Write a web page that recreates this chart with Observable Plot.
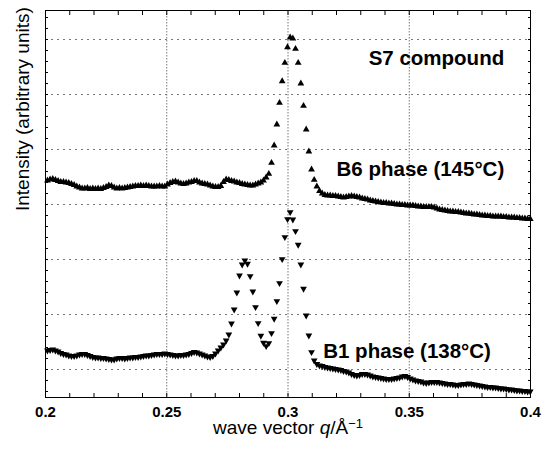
<!DOCTYPE html>
<html><head><meta charset="utf-8">
<script src="https://cdn.jsdelivr.net/npm/d3@7"></script>
<script src="https://cdn.jsdelivr.net/npm/@observablehq/plot@0.6"></script>
<style>body{margin:0;background:#fff}</style>
</head><body><div id="chart"></div>
<script>
// measurement grid in q (Å^-1)
const qStart = 0.2008, qStep = 0.0011;
// intensity, arbitrary units (B6 phase, 145°C, upward triangles)
const b6 = [189,190,190.5,189.5,188.5,187.5,187.5,187,186.5,185.5,184.5,183,182,181,181,181.5,180.5,181,180.5,181,
180.5,181.5,182.5,184,183.5,182,181,181.5,181,181.5,182,182.5,183,183.5,183.5,184,183.5,184,183.5,183,
183,183,183.5,183,183,185,186.5,187.5,188,187,186,185.5,186,187,187.5,188.5,188.5,187,186,185.5,
185,184,183,182.5,182.5,183.5,187.5,190,189.5,188.5,188,187,186.5,185.5,185,184.5,184,184,185,186,
187,189,192,195.7,206.7,224,245,266.7,288.3,306.7,322.3,332,331,320.7,306.7,286,263.7,240,218,200,
189.7,183,178.5,176,174.5,174,174,173.5,173.5,173,172.5,172,172.5,173,173.5,173,172.5,172,171,170.5,
170,169,168.5,168,167.5,167,166.5,166.5,166,166,165.5,165,165,164.5,164.5,164,164,164,163.5,163,
163,162.5,162.5,162.5,162.5,162,161,160,159.5,159,158.5,158,158,157.5,157.5,157,156.5,156,156,155.5,
155,155,154.5,154,154,153.5,153.5,153,153,153,153,152.5,152.5,152,152,152,151.5,151.5,151,151,
150.5,150.5];
// intensity, arbitrary units (B1 phase, 138°C, downward triangles)
const b1 = [19,19.5,20,19,18,16.5,15.5,15,14,13.5,13.5,14,15,15.5,15.5,14.5,13.5,12.5,12,12,
11.5,11.5,11,10.5,10,10,11,11.5,11.5,11,11.5,12,12,12.5,12.5,13,13.5,14,14,14.5,
15,15.5,15.5,15.5,16,15.5,15,14.5,14,14,14.5,14.5,15,15.5,16.5,17.5,17,16,15,14,
13,12.5,13.5,16,19,22,25,29,35,46,60,77,94,105,109,105.7,93.3,78,62.3,46.3,
33.7,26.7,23.3,26.3,36.3,50.7,68.3,86.3,110.3,132.3,150.3,157.3,150,138.3,124.7,105,80.7,54,34,17.3,
9,5.5,4,3.5,2.5,2,1.5,1,0.5,0,-0.5,-1.5,-2,-3,-4.5,-5.5,-6,-5.5,-4.5,-4.5,
-5,-6,-7,-7.5,-8,-8.5,-9,-9.5,-9.5,-9.5,-9,-8.5,-8,-7,-6.5,-7.5,-9,-10,-11,-11.5,
-12,-13,-13.5,-13,-12.5,-12.5,-12.5,-13,-13.5,-14,-14.5,-14.5,-15,-15.5,-15.5,-15,-14.5,-14.5,-14,-14.5,
-15,-15.5,-16,-16.5,-17,-17.5,-17.5,-18,-18,-18.5,-19,-19,-19.5,-20,-20,-20.5,-21,-21,-21.5,-21.5,
-22,-22];
const xTickLabels = [0.2, 0.25, 0.3, 0.35, 0.4];
const xGrid = [0.25, 0.3, 0.35];
const xMinor = [0.2,0.21,0.22,0.23,0.24,0.25,0.26,0.27,0.28,0.29,0.3,0.31,0.32,0.33,0.34,0.35,0.36,0.37,0.38,0.39,0.4];
const yGrid = [0, 55, 110, 165, 220, 275, 330];
const yMinor = [-22,-11,0,11,22,33,44,55,66,77,88,99,110,121,132,143,154,165,176,187,198,209,220,231,242,253,264,275,286,297,308,319,330,341,352];

const upper = b6.map((v, i) => ({q: qStart + i * qStep, I: v}));
const lower = b1.map((v, i) => ({q: qStart + i * qStep, I: v}));

const font = "'Liberation Sans', Arial, Helvetica, sans-serif";
const tickOnly = {tickFormat: null, fill: "none", label: null, stroke: "black"};
const chart = Plot.plot({
  width: 544, height: 450,
  marginLeft: 45, marginRight: 14, marginTop: 10, marginBottom: 53,
  x: {domain: [0.2, 0.4]},
  y: {domain: [-28, 359]},
  style: {fontFamily: font, background: "white", color: "black"},
  marks: [
    Plot.gridX(xGrid, {stroke: "#777", strokeOpacity: 1, strokeDasharray: "1.5,1.5"}),
    Plot.gridY(yGrid, {stroke: "#777", strokeOpacity: 1, strokeDasharray: "2,4"}),
    Plot.dot(upper, {x: "q", y: "I", symbol: "triangle", r: 2.5, fill: "black", stroke: "none"}),
    Plot.dot(lower, {x: "q", y: "I", symbol: "triangle", rotate: 180, r: 2.5, fill: "black", stroke: "none"}),
    Plot.frame({stroke: "black"}),
    Plot.axisX(xMinor, {anchor: "bottom", tickSize: -4, ...tickOnly}),
    Plot.axisX(xMinor, {anchor: "top", tickSize: -4, ...tickOnly}),
    Plot.axisY(yMinor, {anchor: "left", tickSize: -3, ...tickOnly}),
    Plot.axisY(yMinor, {anchor: "right", tickSize: -3, ...tickOnly}),
    Plot.axisX(xTickLabels, {anchor: "bottom", tickSize: 0, tickPadding: 9, tickFormat: d => String(d), fontWeight: "bold", fontSize: 15, label: null}),
    Plot.text(["wave vector q/Å−1"], {text: d => d, frameAnchor: "bottom", dy: 36, lineAnchor: "bottom", fontSize: 19}),
    Plot.text(["Intensity (arbitrary units)"], {text: d => d, frameAnchor: "left", rotate: -90, dx: -23, dy: 7, fontSize: 19}),
    Plot.text(["S7 compound"], {text: d => d, x: 0.3612, y: 311, fontSize: 20.5, fontWeight: "bold"}),
    Plot.text(["B6 phase (145°C)"], {text: d => d, x: 0.3546, y: 200, fontSize: 20.5, fontWeight: "bold"}),
    Plot.text(["B1 phase (138°C)"], {text: d => d, x: 0.3491, y: 18, fontSize: 20.5, fontWeight: "bold"})
  ]
});
document.getElementById("chart").appendChild(chart);
// rich formatting of the x-axis label
d3.select(chart).selectAll("text").each(function() {
  if (this.textContent === "wave vector q/Å−1") {
    const t = d3.select(this);
    t.text(null);
    t.append("tspan").text("wave vector ");
    t.append("tspan").attr("font-style", "italic").text("q");
    t.append("tspan").text("/Å");
    t.append("tspan").attr("dy", "-0.45em").attr("font-size", "13").text("−1");
  }
});
</script>
</body></html>
